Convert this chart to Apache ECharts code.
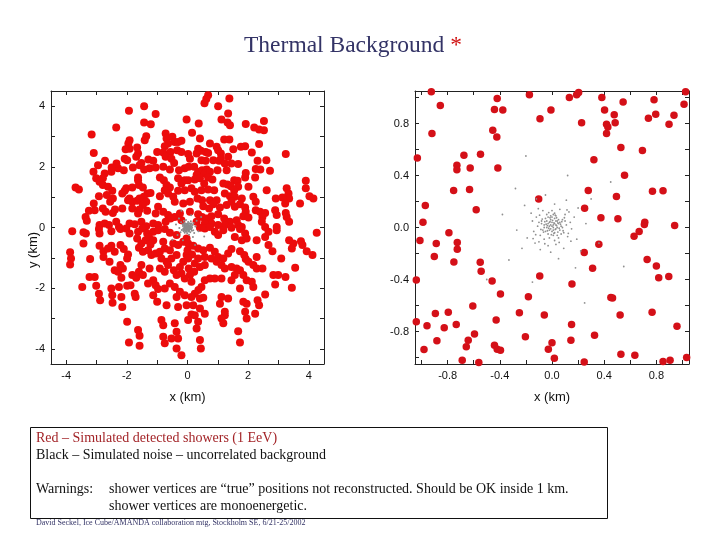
<!DOCTYPE html>
<html>
<head>
<meta charset="utf-8">
<script src="https://cdn.jsdelivr.net/npm/echarts@6/dist/echarts.min.js"></script>
<style>html,body{margin:0;padding:0;background:#fff}#c{width:720px;height:540px}</style>
</head>
<body>
<div id="c"></div>
<script>
// ---------- DATA ----------
// Left panel: simulated detected showers (km)
const leftShowers = [
[-1.43,4.00],[-1.93,3.85],[-1.05,3.74],[-1.43,3.46],[-1.21,3.40],[-2.35,3.30],[-0.03,3.56],[-3.16,3.07],[-1.36,3.01],[-1.41,2.88],[-0.72,3.10],[-0.69,2.93],[-0.50,2.99],[-0.42,2.82],[-0.64,2.77],[-0.75,2.68],[-0.31,2.82],[-0.20,2.86],[-1.91,2.88],[-1.95,2.77],[-1.66,2.64],[-1.91,2.60],[-2.04,2.58],[-1.00,2.49],[-0.80,2.47],[-0.56,2.49],[-0.34,2.55],[-0.20,2.49],[-3.09,2.46],[-1.63,2.44],[-1.69,2.33],[-2.07,2.27],[-1.99,2.22],[-1.52,2.13],[-1.58,2.05],[-1.29,2.24],[-1.13,2.20],[-0.72,2.33],[-0.53,2.27],[-0.44,2.13],[-2.95,2.05],[-2.51,1.84],[-2.73,1.78],[-2.29,1.95],[-2.10,1.89],[-1.80,1.98],[-1.25,1.95],[-1.43,1.91],[-1.05,1.98],[-0.80,2.00],[-0.58,1.91],[-0.28,1.89],[-0.09,1.95],[-3.10,1.84],[-3.01,1.62],[-2.79,1.62],[-2.90,1.51],[-1.63,1.65],[-1.63,1.56],[-0.91,1.65],[-0.78,1.56],[-0.31,1.62],[-0.09,1.56],[-0.20,1.45],[-3.69,1.32],[-3.58,1.25],[-2.79,1.40],[-2.62,1.34],[-2.48,1.21],[-2.66,1.07],[-2.02,1.29],[-2.07,1.21],[-2.15,1.12],[-1.82,1.32],[-1.60,1.40],[-1.47,1.32],[-1.32,1.12],[-1.44,1.01],[-1.22,1.14],[-0.69,1.40],[-0.58,1.32],[-0.75,1.23],[-0.91,1.03],[-0.64,1.12],[-0.47,1.01],[-0.09,1.23],[-0.31,1.21],[-2.92,1.03],[-2.46,0.96],[-2.55,0.85],[-1.91,0.96],[-1.82,0.85],[-1.96,0.90],[-1.66,0.88],[-1.58,0.96],[-1.36,0.85],[-1.47,0.74],[-0.42,0.85],[-0.14,0.79],[-3.25,0.55],[-3.06,0.57],[-3.36,0.35],[-3.32,0.22],[-2.79,0.63],[-2.70,0.52],[-2.39,0.59],[-2.46,0.48],[-2.15,0.63],[-1.82,0.63],[-1.58,0.59],[-1.63,0.46],[-1.33,0.55],[-0.97,0.68],[-1.05,0.46],[-0.80,0.52],[-0.64,0.41],[-0.56,0.30],[-0.72,0.19],[-0.42,0.35],[-0.25,0.46],[-0.20,0.24],[-2.90,0.08],[-2.73,0.13],[-2.59,0.08],[-2.35,0.19],[-2.26,0.02],[-1.91,0.13],[-1.74,0.11],[-1.52,0.19],[-1.36,0.04],[-1.13,0.13],[-0.97,0.08],
[-2.72,2.20],[-2.34,2.11],[-2.50,1.98],[-3.09,0.79],[-3.35,-0.20],
[0.68,4.36],[0.62,4.24],[0.56,4.10],[1.38,4.25],[1.01,4.00],[1.34,3.76],[1.12,3.56],[1.32,3.46],[1.40,3.37],[0.37,3.43],[1.92,3.41],[2.20,3.30],[2.36,3.23],[2.52,3.21],[2.52,3.51],[0.15,3.12],[0.41,2.93],[1.21,2.90],[1.38,2.90],[0.74,2.77],[1.90,2.68],[1.76,2.66],[1.51,2.58],[2.36,2.75],[0.96,2.66],[1.01,2.55],[1.10,2.44],[0.35,2.60],[0.44,2.53],[0.60,2.49],[0.68,2.46],[0.02,2.42],[0.08,2.27],[0.30,2.44],[2.12,2.47],[3.24,2.42],[0.46,2.22],[0.60,2.20],[0.85,2.22],[1.04,2.20],[1.10,2.27],[1.34,2.33],[1.23,2.11],[1.45,2.11],[1.67,2.09],[2.31,2.20],[2.60,2.22],[0.04,2.00],[0.22,2.00],[0.35,1.84],[0.48,1.89],[0.63,1.91],[0.30,1.73],[0.57,1.78],[0.74,1.84],[0.99,1.89],[1.29,1.89],[1.92,1.80],[2.25,1.93],[2.40,1.91],[2.72,1.87],[0.02,1.56],[0.24,1.58],[0.41,1.62],[0.68,1.65],[0.82,1.58],[0.55,1.45],[1.18,1.45],[1.32,1.42],[1.54,1.56],[1.65,1.54],[1.43,1.36],[1.67,1.34],[1.54,1.23],[1.90,1.65],[2.23,1.65],[2.01,1.34],[2.61,1.23],[3.27,1.29],[3.33,1.12],[3.35,0.96],[3.90,1.54],[3.90,1.29],[4.02,1.03],[4.15,0.96],[0.13,1.29],[0.24,1.18],[0.46,1.23],[0.68,1.25],[0.88,1.23],[1.23,1.12],[1.40,1.03],[1.56,1.01],[1.79,0.96],[2.17,1.01],[2.25,0.85],[2.91,0.96],[3.13,0.99],[3.22,0.79],[3.71,0.79],[0.08,0.85],[0.33,0.96],[0.48,0.90],[0.74,0.90],[0.96,0.90],[0.52,0.70],[0.71,0.63],[0.85,0.77],[1.07,0.66],[1.29,0.74],[1.45,0.85],[1.56,0.68],[1.73,0.77],[1.90,0.66],[1.92,0.52],[1.84,0.37],[2.01,0.33],[2.25,0.57],[2.39,0.52],[2.56,0.48],[2.47,0.35],[3.24,0.48],[3.27,0.35],[3.35,0.19],[2.89,0.57],[2.94,0.41],[0.08,0.52],[0.35,0.44],[0.48,0.35],[0.63,0.30],[0.79,0.37],[1.01,0.44],[1.21,0.30],[1.40,0.19],[1.62,0.24],[1.67,0.08],[1.79,0.02],[1.23,0.08],[1.01,0.08],[0.79,0.13],[0.57,0.13],[0.30,0.19],[2.45,0.19],[2.56,0.02],[2.94,0.02],
[-3.80,-0.12],[-3.43,-0.16],[-3.43,-0.53],[-2.92,-0.05],[-2.90,-0.20],[-2.51,-0.12],[-2.21,-0.05],[-2.02,-0.03],[-1.91,-0.20],[-1.63,-0.14],[-1.49,-0.03],[-1.33,-0.20],[-1.13,-0.14],[-0.97,-0.09],[-0.75,-0.05],[-0.58,-0.17],[-0.36,-0.25],
[-3.87,-0.82],[-3.84,-1.02],[-3.87,-1.22],[-2.90,-0.60],[-2.77,-0.78],[-2.77,-0.97],[-3.21,-1.04],[-3.23,-1.63],[-3.06,-1.63],[-3.47,-1.96],[-3.01,-1.92],[-2.92,-2.18],[-2.88,-2.40],[-2.51,-2.01],[-2.48,-2.23],[-2.18,-2.29],[-2.15,-2.62],[-2.40,-1.41],[-2.57,-1.13],[-2.62,-0.69],[-2.51,-0.60],[-2.40,-0.80],[-2.21,-0.58],[-2.10,-0.71],[-1.96,-0.89],[-1.99,-1.02],[-2.21,-1.24],[-2.13,-1.35],[-2.29,-1.46],[-2.18,-1.66],[-2.26,-1.96],[-1.99,-1.92],[-1.88,-1.90],[-1.82,-1.57],[-1.69,-1.66],[-1.74,-2.18],[-1.71,-2.29],[-1.99,-3.11],[-1.63,-3.38],[-1.58,-3.57],[-1.93,-3.79],[-1.58,-3.90],[-2.47,-2.48],
[-1.66,-0.36],[-1.52,-0.53],[-1.38,-0.42],[-1.27,-0.31],[-1.13,-0.42],[-1.22,-0.56],[-1.60,-0.67],[-1.47,-0.80],[-1.30,-0.75],[-1.19,-0.91],[-1.05,-0.86],[-0.91,-0.80],[-0.75,-0.69],[-0.86,-1.02],[-0.69,-1.13],[-0.53,-1.02],[-0.36,-0.91],[-0.58,-0.75],[-0.80,-0.47],[-0.47,-0.53],[-0.31,-0.58],[-0.14,-0.47],[-0.03,-0.36],[-0.91,-1.35],[-0.75,-1.46],[-0.64,-1.24],[-0.45,-1.41],[-0.25,-1.30],[-0.14,-1.13],[-0.03,-0.91],[-0.20,-1.52],[-0.36,-1.57],
[-1.52,-1.24],[-1.60,-1.46],[-1.47,-1.57],[-1.25,-1.35],[-1.13,-1.74],[-1.30,-1.85],[-1.05,-1.90],[-0.97,-2.03],[-1.13,-2.23],[-1.00,-2.45],[-0.69,-2.56],[-0.75,-2.01],[-0.58,-1.85],[-0.42,-1.96],[-0.25,-2.12],[-0.36,-2.29],[-0.09,-2.23],[-0.03,-2.56],[-0.31,-2.62],
[-0.86,-3.05],[-0.80,-3.22],[-0.75,-3.82],[-0.42,-3.16],[-0.36,-3.44],[-0.31,-3.66],[-0.20,-4.21],[-0.36,-3.99],[-0.53,-3.66],[-0.80,-3.60],
[0.02,-0.53],[0.19,-0.60],[0.00,-0.75],[0.15,-0.89],[0.02,-1.02],[0.24,-1.19],[0.04,-1.35],[0.22,-1.46],[0.08,-1.57],[-0.09,-1.68],[0.13,-1.79],
[0.41,-0.01],[0.57,-0.03],[0.74,0.02],[0.90,-0.14],[1.01,-0.25],[1.18,-0.09],[1.45,-0.01],[1.73,-0.05],[1.90,-0.20],[1.56,-0.31],[1.79,-0.42],[1.95,-0.36],[2.28,-0.42],[2.56,-0.31],[2.67,-0.14],[2.94,-0.09],[2.67,-0.58],[2.80,-0.78],[3.09,-1.02],
[3.35,-0.42],[3.49,-0.53],[3.44,-0.69],[3.93,-0.78],[4.12,-0.91],[4.26,-0.17],[3.74,-0.45],[3.79,-0.58],[3.55,-1.33],[3.23,-1.63],
[0.35,-0.69],[0.52,-0.75],[0.57,-0.97],[0.74,-0.67],[0.90,-0.80],[1.01,-0.97],[1.18,-1.02],[1.34,-0.86],[1.45,-0.71],[1.73,-0.78],[1.87,-0.91],[1.92,-1.04],[2.01,-1.13],[2.17,-1.24],[2.28,-1.35],[0.35,-1.02],[0.41,-1.30],[0.57,-1.24],[0.79,-1.02],[0.96,-1.13],[1.12,-1.24],[1.23,-1.35],[1.45,-1.30],[1.62,-1.35],[1.73,-1.41],[1.56,-1.57],[1.84,-1.57],[1.95,-1.74],[2.12,-1.79],[2.17,-1.96],[1.73,-2.01],[1.45,-1.74],[1.12,-1.68],[0.90,-1.68],[0.74,-1.68],[0.57,-1.74],[0.46,-1.96],[0.36,-2.06],[0.24,-2.18],
[2.28,-0.97],[2.47,-1.35],[2.83,-1.57],[2.99,-1.57],[2.89,-1.88],[3.44,-1.99],[2.56,-2.21],[2.31,-2.40],[2.36,-2.56],[1.84,-2.45],[1.95,-2.51],[1.90,-2.78],[2.23,-2.84],[1.95,-3.00],[1.12,-2.29],[1.34,-2.34],[1.07,-2.51],[1.23,-2.89],[1.12,-3.00],[1.18,-3.16],[0.41,-2.34],[0.52,-2.32],[0.13,-2.29],[0.19,-2.56],[0.41,-2.67],[0.57,-2.84],[0.13,-2.87],[0.24,-2.89],[0.02,-3.05],[0.30,-3.33],[0.41,-3.71],[0.44,-3.99],[1.67,-3.42],[1.73,-3.79],[0.35,-3.11],[1.23,-2.78]
];

// Right panel: showers within ~1 km (km)
const rightShowers = [
[-0.925,1.045],[-0.856,0.939],[-0.420,0.993],[-0.441,0.908],[-0.377,0.903],[-0.173,1.021],[-0.008,0.903],[-0.092,0.836],[0.133,1.000],[0.189,1.021],[0.204,1.039],[0.382,1.000],[0.403,0.903],[0.477,0.867],[0.545,0.965],[0.782,0.983],[0.795,0.872],[0.935,0.864],[1.012,0.949],[1.024,1.044],
[-0.920,0.723],[-0.454,0.748],[-0.423,0.697],[0.227,0.805],[0.418,0.795],[0.428,0.774],[0.418,0.723],[0.484,0.805],[0.739,0.841],[0.897,0.795],[0.528,0.615],[0.693,0.592],
[-1.032,0.535],[-0.675,0.556],[-0.548,0.563],[-0.729,0.478],[-0.729,0.445],[-0.627,0.458],[-0.415,0.458],[0.321,0.522],[0.556,0.401],
[-0.754,0.285],[-0.632,0.293],[0.278,0.285],[0.770,0.278],[0.851,0.283],[-0.971,0.170],[-0.581,0.136],[-0.102,0.219],[0.494,0.239],
[-0.989,0.041],[-0.790,-0.041],[0.250,0.149],[0.375,0.075],[0.505,0.067],[0.711,0.041],[0.708,0.023],[0.668,-0.031],[0.940,0.015],
[-1.012,-0.100],[-0.887,-0.123],[-0.726,-0.116],[-0.726,-0.167],[0.359,-0.129],[0.629,-0.067],[-0.902,-0.224],[-0.752,-0.265],[-0.550,-0.267],[-0.543,-0.337],[0.247,-0.193],[0.311,-0.314],[-0.094,-0.373],[0.729,-0.247],[0.800,-0.296],[0.818,-0.386],[0.895,-0.376],
[-1.040,-0.404],[-0.459,-0.412],[0.153,-0.435],[-0.395,-0.512],[-0.181,-0.532],[0.451,-0.538],[0.464,-0.543],[-0.607,-0.604],[-0.250,-0.656],[-0.795,-0.651],[-0.894,-0.661],[-0.059,-0.674],[0.522,-0.674],[0.767,-0.651],
[-0.428,-0.712],[-1.040,-0.725],[-0.958,-0.756],[-0.826,-0.772],[-0.734,-0.746],[0.150,-0.746],[0.958,-0.759],[-0.204,-0.841],[-0.594,-0.820],[-0.642,-0.867],[-0.882,-0.872],[-0.657,-0.918],[-0.441,-0.905],[-0.420,-0.936],[-0.395,-0.944],[0.145,-0.867],[0.000,-0.887],[0.326,-0.828],[-0.981,-0.939],[-0.028,-0.936],
[-0.688,-1.021],[-0.561,-1.039],[0.018,-1.006],[0.528,-0.975],[0.635,-0.982],[0.247,-1.034],[0.851,-1.031],[0.905,-1.021],[1.032,-1.000]
];

// Uncorrelated noise vertices (km), shown in both panels
const noise = [
[0.01,0.02],[-0.02,0.04],[0.03,-0.01],[-0.04,0.00],[0.05,0.03],[0.00,-0.03],[-0.01,0.06],[0.02,0.07],[-0.06,0.02],[0.06,-0.02],[-0.03,-0.05],[0.04,0.05],[-0.05,0.07],[0.07,0.01],[0.01,-0.06],[-0.07,-0.02],[0.03,0.09],[-0.02,-0.08],[0.08,0.06],[-0.08,0.05],[0.09,-0.04],[-0.09,-0.06],[0.02,0.11],[-0.04,0.10],[0.11,0.02],[-0.11,0.01],[0.05,-0.08],[-0.06,-0.09],[0.00,0.13],[0.12,-0.07],[-0.12,0.08],[0.10,0.10],[-0.10,-0.11],[0.14,0.04],[-0.14,-0.03],[0.06,0.14],[-0.07,0.13],[0.03,-0.13],[-0.03,-0.14],[0.15,-0.01],[-0.15,0.05],[0.13,0.12],[-0.13,-0.12],[0.17,0.08],[-0.16,0.11],[0.09,-0.16],[-0.09,-0.17],[0.02,0.18],[-0.01,-0.19],[0.19,-0.09],[-0.19,-0.08],[0.20,0.15],[-0.21,0.17],[0.11,0.21],[-0.12,0.22],[0.22,-0.18],[-0.23,-0.16],[0.05,-0.24],[-0.05,0.25],[0.26,0.03],[-0.27,-0.02],[0.30,0.22],[-0.28,0.30],[0.18,-0.31],[-0.33,-0.25],[0.36,-0.12],[-0.38,0.10],[0.12,0.40],[-0.15,-0.42],[0.45,0.35],[-0.50,-0.40],[0.55,-0.30],[-0.20,0.55],[0.25,-0.58],
[0.00,0.01],[0.01,0.00],[-0.01,0.02],[0.02,0.03],[-0.02,0.01],[0.00,0.04],[0.03,0.02],[-0.03,0.03],[0.01,-0.02],[-0.01,-0.01],[0.04,0.00],[-0.02,-0.02],[0.02,-0.04],[-0.04,0.05],[0.05,0.06],[0.00,0.08],[-0.05,-0.03],[0.06,0.04],[0.03,0.05],[-0.03,0.08],[0.07,-0.05],[-0.08,0.03],[0.04,-0.06],[-0.06,0.00],[0.08,0.00],[0.01,0.10],[-0.01,0.09],[0.10,0.05],[-0.10,0.04],[0.02,-0.10],
[0.015,0.035],[-0.015,0.045],[0.035,0.015],[-0.035,0.015],[0.025,-0.015],[-0.025,-0.005],[0.005,0.055],[0.045,0.035],[-0.045,0.025],[0.015,-0.045],[-0.015,0.075],[0.055,-0.005],[-0.055,0.045],[0.065,0.025],[-0.065,-0.035],[0.035,0.075],[-0.035,-0.025],[0.075,0.045],[-0.075,0.065],[0.045,-0.035],[-0.005,-0.055],[0.085,-0.025],[-0.085,-0.015],[0.025,0.095],[-0.025,0.115],[0.095,0.075],[-0.095,0.095],[0.055,-0.115],[-0.055,-0.125],[0.125,-0.045],[-0.125,-0.055],[0.115,0.135],[-0.105,0.145],[0.145,-0.105],[-0.145,-0.085]
];

// Axis ticks / labels
const leftTicks = [-4,-3,-2,-1,0,1,2,3,4];
const leftLabels = [-4,-2,0,2,4];
const rightTicks = [-1.0,-0.8,-0.6,-0.4,-0.2,0,0.2,0.4,0.6,0.8,1.0];
const rightLabels = [-0.8,-0.4,0,0.4,0.8];

// Text
const titleText = 'Thermal Background';
const noteLines = [
  'Red – Simulated detected showers (1 EeV)',
  'Black – Simulated noise – uncorrelated background',
  'Warnings:',
  'shower vertices are \u201ctrue\u201d positions not reconstructed. Should be OK inside 1 km.',
  'shower vertices are monoenergetic.'
];
const footerText = 'David Seckel, Ice Cube/AMANDA collaboration mtg, Stockholm SE, 6/21-25/2002';

// ---------- CHART ----------
const chart = echarts.init(document.getElementById('c'), null, {renderer:'canvas'});
const lineStyle = {color:'#222', width:1};
const labelFont = {color:'#111', fontFamily:'Liberation Sans, Arial, sans-serif', fontSize:11};
const serif = 'Liberation Serif, Times New Roman, serif';

function mkAxis(grid, min, max, ticks, labels, pos, showLabels, fmt, name) {
  const a = {
    type:'value', gridIndex:grid, min:min, max:max, position:pos,
    axisLine:{show:true, onZero:false, lineStyle:lineStyle},
    axisTick:{show:true, inside:true, length:4, customValues:ticks, lineStyle:lineStyle},
    axisLabel:{show:showLabels, customValues:labels, formatter:fmt, margin:6, ...labelFont},
    splitLine:{show:false}
  };
  if (name) {
    a.name = name; a.nameLocation = 'middle'; a.nameGap = 27;
    a.nameTextStyle = {color:'#111', fontFamily:'Liberation Sans, Arial, sans-serif', fontSize:13};
  }
  return a;
}
const fmtL = v => String(Math.round(v));
const fmtR = v => (Math.abs(v) < 1e-9 ? 0 : v).toFixed(1);

const option = {
  backgroundColor:'#fff',
  animation:false,
  grid:[
    {left:51, top:91, width:273, height:273},
    {left:415, top:91, width:274, height:273}
  ],
  xAxis:[
    mkAxis(0,-4.5,4.5,leftTicks,leftLabels,'bottom',true,fmtL,'x (km)'),
    mkAxis(0,-4.5,4.5,leftTicks,leftLabels,'top',false,fmtL),
    mkAxis(1,-1.05,1.05,rightTicks,rightLabels,'bottom',true,fmtR,'x (km)'),
    mkAxis(1,-1.05,1.05,rightTicks,rightLabels,'top',false,fmtR)
  ],
  yAxis:[
    mkAxis(0,-4.5,4.5,leftTicks,leftLabels,'left',true,fmtL),
    mkAxis(0,-4.5,4.5,leftTicks,leftLabels,'right',false,fmtL),
    mkAxis(1,-1.05,1.05,rightTicks,rightLabels,'left',true,fmtR),
    mkAxis(1,-1.05,1.05,rightTicks,rightLabels,'right',false,fmtR)
  ],
  series:[
    {type:'scatter', xAxisIndex:0, yAxisIndex:0, data:leftShowers, symbolSize:8, clip:true,
     itemStyle:{color:'#ec0c0c', opacity:1}, silent:true, z:2},
    {type:'scatter', xAxisIndex:0, yAxisIndex:0, data:noise, symbolSize:2, clip:true,
     itemStyle:{color:'#8a8a8a', opacity:1}, silent:true, z:3},
    {type:'scatter', xAxisIndex:2, yAxisIndex:2, data:rightShowers, symbolSize:7.5, clip:true,
     itemStyle:{color:'#d41018', opacity:1}, silent:true, z:2},
    {type:'scatter', xAxisIndex:2, yAxisIndex:2, data:noise, symbolSize:1.8, clip:true,
     itemStyle:{color:'#909090', opacity:1}, silent:true, z:3}
  ],
  graphic:[
    {type:'text', x:353, y:46, style:{
      text:'{a|' + titleText + ' }{b|*}',
      align:'center', verticalAlign:'middle',
      rich:{
        a:{fontFamily:serif, fontSize:23.5, fill:'#333366'},
        b:{fontFamily:serif, fontSize:23.5, fill:'#d01010'}
      }
    }},
    {type:'text', x:33, y:250, rotation:Math.PI/2, style:{
      text:'y (km)', align:'center', verticalAlign:'middle',
      font:'13px Liberation Sans, Arial, sans-serif', fill:'#111'
    }},
    {type:'rect', shape:{x:30.5, y:427.5, width:577, height:91}, style:{fill:'none', stroke:'#111', lineWidth:1}},
    {type:'text', x:36, y:438, style:{text:noteLines[0], verticalAlign:'middle', font:'14px ' + serif, fill:'#a32428'}},
    {type:'text', x:36, y:455, style:{text:noteLines[1], verticalAlign:'middle', font:'14px ' + serif, fill:'#111'}},
    {type:'text', x:36, y:489, style:{text:noteLines[2], verticalAlign:'middle', font:'14px ' + serif, fill:'#111'}},
    {type:'text', x:109, y:489, style:{text:noteLines[3], verticalAlign:'middle', font:'14px ' + serif, fill:'#111'}},
    {type:'text', x:109, y:506, style:{text:noteLines[4], verticalAlign:'middle', font:'14px ' + serif, fill:'#111'}},
    {type:'text', x:36, y:523, style:{text:footerText, verticalAlign:'middle', font:'8px ' + serif, fill:'#333366'}}
  ]
};
chart.setOption(option);
</script>
</body>
</html>
